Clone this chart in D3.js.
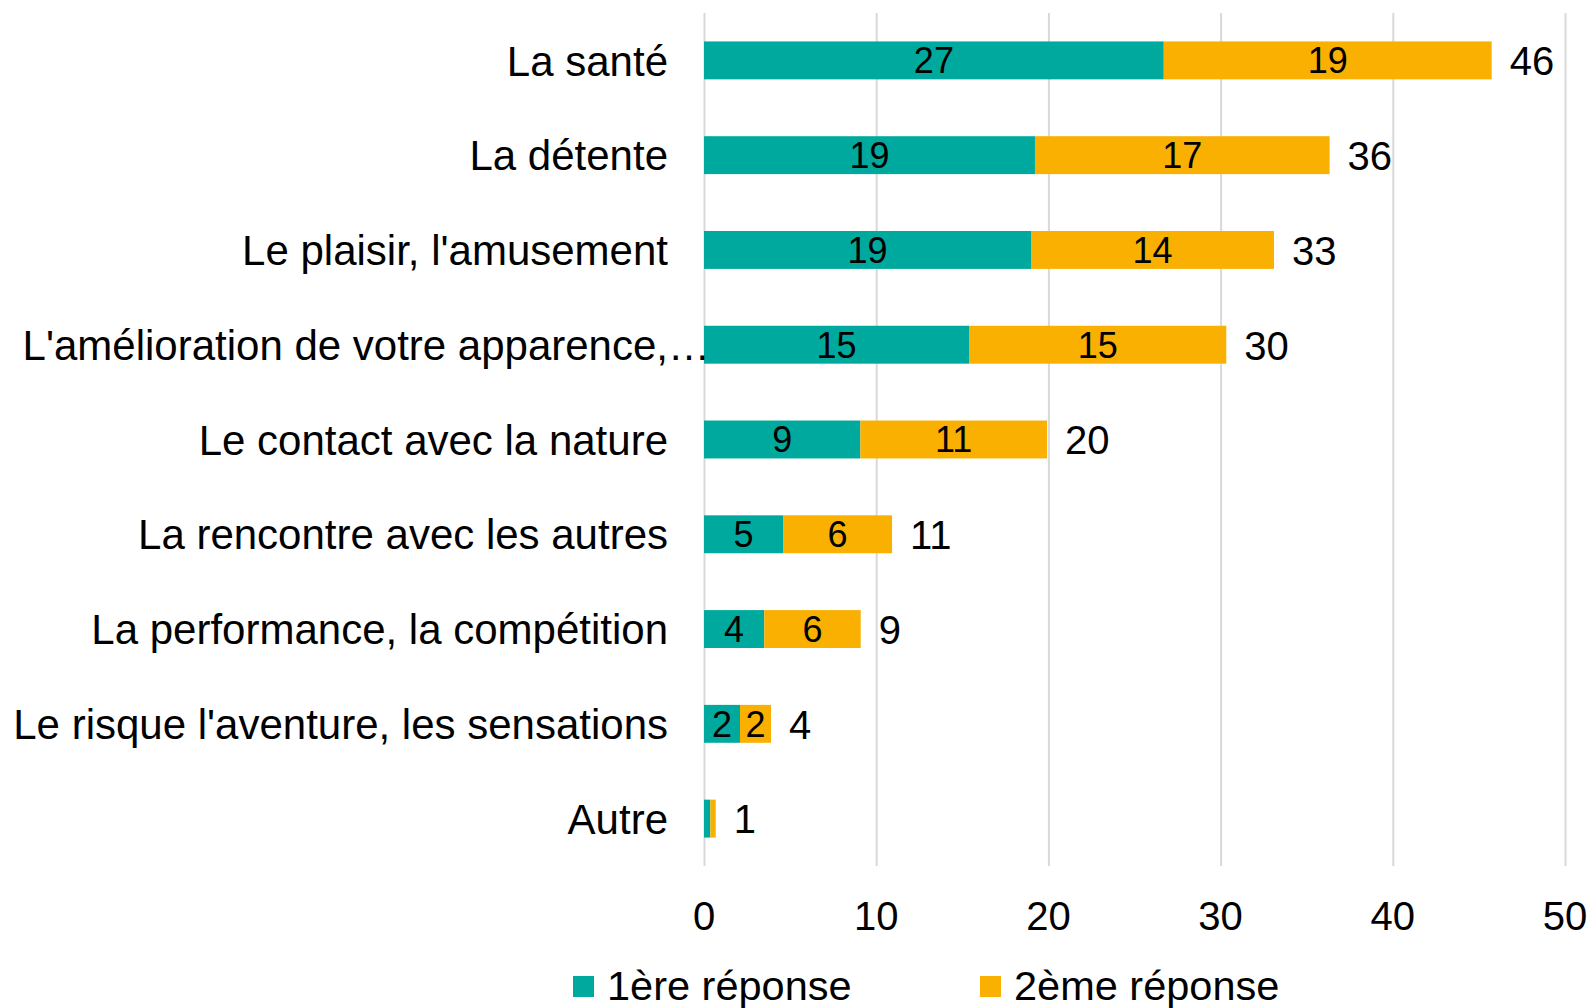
<!DOCTYPE html>
<html>
<head>
<meta charset="utf-8">
<script src="https://cdn.jsdelivr.net/npm/d3@7"></script>
<style>
  body { margin: 0; background: #fff; }
  text { font-family: "Liberation Sans", Arial, sans-serif; fill: #000; }
</style>
</head>
<body>
<div id="chart-area"></div>
<script>
// data
const categories = [
	"La santé",
	"La détente",
	"Le plaisir, l'amusement",
	"L'amélioration de votre apparence,…",
	"Le contact avec la nature",
	"La rencontre avec les autres",
	"La performance, la compétition",
	"Le risque l'aventure, les sensations",
	"Autre"
]
const first = [26.7, 19.22, 18.99, 15.39, 9.08, 4.59, 3.5, 2.09, 0.37]
const second = [19.04, 17.11, 14.11, 14.94, 10.84, 6.33, 5.6, 1.8, 0.31]
const seriesNames = ["1ère réponse", "2ème réponse"]
const xTicks = [0, 10, 20, 30, 40, 50]

const COLORS = ["#00A99D", "#F9B000"]
const W = 1595
const H = 1008
const PLOT = { LEFT: 704, RIGHT: 1565, TOP: 13, BOTTOM: 866 }
const LABEL_X = 668

const svg = d3.select("#chart-area").append("svg")
	.attr("width", W)
	.attr("height", H)

// scales
const x = d3.scaleLinear().domain([0, 50]).range([PLOT.LEFT, PLOT.RIGHT])
const y = d3.scaleBand()
	.domain(categories)
	.range([PLOT.TOP, PLOT.BOTTOM])
	.paddingInner(0.6)
	.paddingOuter(0.3)

// stacked rows
const rows = categories.map((c, i) => ({ cat: c, a: first[i], b: second[i] }))
const stack = d3.stack().keys(["a", "b"])(rows)

// gridlines
const xAxisCall = d3.axisBottom(x)
	.tickValues(xTicks)
	.tickSize(-(PLOT.BOTTOM - PLOT.TOP))
	.tickFormat("")
svg.append("g")
	.attr("class", "grid")
	.attr("transform", `translate(0, ${PLOT.BOTTOM})`)
	.call(xAxisCall)
	.call(g => g.select(".domain").remove())
	.call(g => g.selectAll("line").attr("stroke", "#d9d9d9").attr("stroke-width", 2))

// tick labels
svg.append("g").selectAll("text")
	.data(xTicks)
	.enter().append("text")
	.attr("x", d => x(d))
	.attr("y", 930)
	.attr("text-anchor", "middle")
	.style("font-size", "40px")
	.text(d => d)

// bars
const layers = svg.append("g").selectAll("g")
	.data(stack)
	.enter().append("g")
	.attr("fill", (d, i) => COLORS[i])

layers.selectAll("rect")
	.data(d => d)
	.enter().append("rect")
	.attr("x", d => x(d[0]))
	.attr("y", d => y(d.data.cat))
	.attr("width", d => x(d[1]) - x(d[0]))
	.attr("height", y.bandwidth())

// labels inside the segments
layers.selectAll("text")
	.data(d => d.filter(s => Math.round(s[1] - s[0]) > 0))
	.enter().append("text")
	.attr("x", d => (x(d[0]) + x(d[1])) / 2)
	.attr("y", d => y(d.data.cat) + y.bandwidth() / 2)
	.attr("dy", "0.36em")
	.attr("text-anchor", "middle")
	.style("font-size", "36px")
	.text(d => Math.round(d[1] - d[0]))

// totals
svg.append("g").selectAll("text")
	.data(rows)
	.enter().append("text")
	.attr("x", d => x(d.a + d.b) + 18)
	.attr("y", d => y(d.cat) + y.bandwidth() / 2)
	.attr("dy", "0.37em")
	.style("font-size", "40px")
	.text(d => Math.round(d.a + d.b))

// category labels (the truncated one lets its ellipsis run past the edge)
const catLabels = svg.append("g").selectAll("text")
	.data(categories)
	.enter().append("text")
	.attr("x", LABEL_X)
	.attr("y", d => y(d) + y.bandwidth() / 2)
	.attr("dy", "0.36em")
	.attr("text-anchor", "end")
	.style("font-size", "42px")
catLabels.each(function (d) {
	const t = d3.select(this)
	if (d.endsWith("…")) {
		t.append("tspan").text(d.slice(0, -1))
		const ell = t.append("tspan").text("…")
		t.attr("x", LABEL_X + ell.node().getComputedTextLength())
	} else {
		t.text(d)
	}
})

// legend
const legendX = [573, 980]
const legend = svg.append("g").selectAll("g")
	.data(seriesNames)
	.enter().append("g")
	.attr("transform", (d, i) => `translate(${legendX[i]}, 976)`)
legend.append("rect")
	.attr("width", 21)
	.attr("height", 21)
	.attr("fill", (d, i) => COLORS[i])
legend.append("text")
	.attr("x", 34)
	.attr("y", 24)
	.style("font-size", "41.5px")
	.text(d => d)
</script>
</body>
</html>
